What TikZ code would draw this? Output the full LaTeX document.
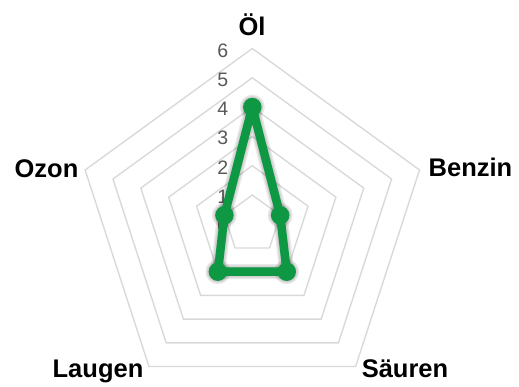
\documentclass[tikz,border=0pt]{standalone}
\usepackage{fontspec}
\setmainfont{Liberation Sans}
\definecolor{gridgray}{RGB}{217,217,217}
\definecolor{seriesgreen}{RGB}{14,152,68}
\definecolor{tickgray}{RGB}{89,89,89}
\begin{document}
\begin{tikzpicture}[x=1pt,y=-1pt,
  gridline/.style={draw=gridgray,line width=1.4pt,line join=miter},
  ticklabel/.style={text=tickgray,font=\fontsize{19.5}{22}\selectfont,inner sep=0pt,anchor=base},
  axislabel/.style={text=black,font=\bfseries\fontsize{25.5}{28}\selectfont,inner sep=0pt,anchor=base},
  seriesline/.style={draw=seriesgreen,line width=8.5pt,line join=round,line cap=round},
  marker/.style={circle,fill=seriesgreen,minimum size=18.5pt,inner sep=0pt},
  shadowline/.style={draw=black,opacity=0.09,line join=round,line cap=round},
  shadowmark/.style={circle,fill=black,opacity=0.09,inner sep=0pt}]
\useasboundingbox (0,0) rectangle (519,386);
\def\cx{252.3}
\def\cy{224.3}
\def\u{29.3}
% grid
\begin{scope}[shift={(\cx,\cy)}]
\foreach \k in {1,...,6}
  \draw[gridline] (0,{-\k*\u}) -- ({\k*\u*cos(18)},{-\k*\u*sin(18)}) -- ({\k*\u*cos(-54)},{-\k*\u*sin(-54)}) -- ({\k*\u*cos(-126)},{-\k*\u*sin(-126)}) -- ({\k*\u*cos(162)},{-\k*\u*sin(162)}) -- cycle;
\end{scope}
% tick labels
\foreach \k in {0,...,6}
  \node[ticklabel] (t\k) at (222.7,{\cy-\k*\u+8.5}) {\k};
% axis labels
\node[axislabel] (lOl) at (252,35) {Öl};
\node[axislabel] (lBenzin) at (470.5,176.7) {Benzin};
\node[axislabel] (lSaeuren) at (405,377) {Säuren};
\node[axislabel] (lLaugen) at (98,377) {Laugen};
\node[axislabel] (lOzon) at (46.5,177) {Ozon};
% data coordinates
\coordinate (dOl) at ({\cx},{\cy-4*\u});
\coordinate (dBenzin) at ({\cx+1*\u*cos(18)},{\cy-1*\u*sin(18)});
\coordinate (dSaeuren) at ({\cx+2*\u*cos(-54)},{\cy-2*\u*sin(-54)});
\coordinate (dLaugen) at ({\cx+2*\u*cos(-126)},{\cy-2*\u*sin(-126)});
\coordinate (dOzon) at ({\cx+1*\u*cos(162)},{\cy-1*\u*sin(162)});
% shadow
\begin{scope}[shift={(2.5,3)}]
\foreach \w in {15,12,9}
  \draw[shadowline,line width=\w pt] (dOl) -- (dBenzin) -- (dSaeuren) -- (dLaugen) -- (dOzon) -- cycle;
\foreach \p in {dOl,dBenzin,dSaeuren,dLaugen,dOzon}
  \foreach \s in {25,22,19}
    \node[shadowmark,minimum size=\s pt] at (\p) {};
\end{scope}
% series
\draw[seriesline] (dOl) -- (dBenzin) -- (dSaeuren) -- (dLaugen) -- (dOzon) -- cycle;
\node[marker] (mOl) at (dOl) {};
\node[marker] (mBenzin) at (dBenzin) {};
\node[marker] (mSaeuren) at (dSaeuren) {};
\node[marker] (mLaugen) at (dLaugen) {};
\node[marker] (mOzon) at (dOzon) {};
\end{tikzpicture}
\end{document}
